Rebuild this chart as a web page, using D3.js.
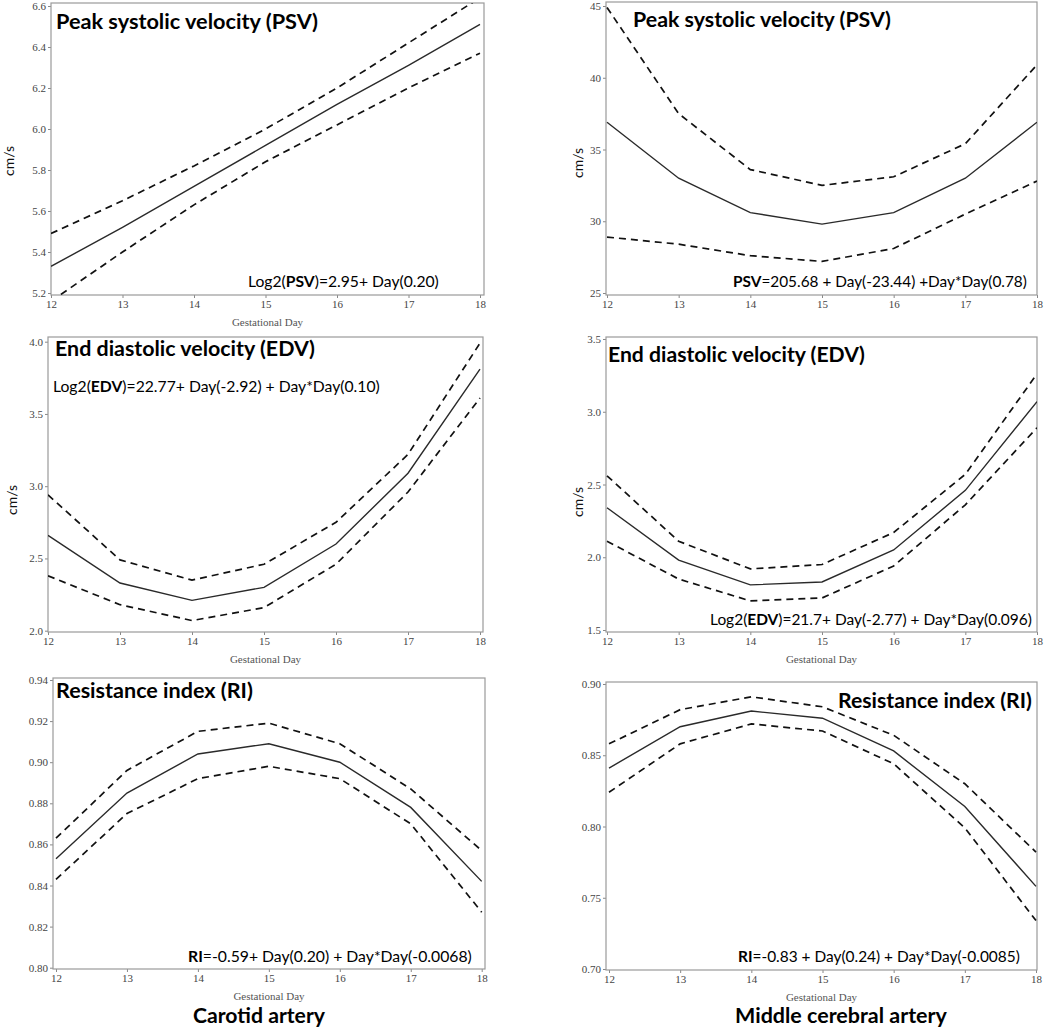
<!DOCTYPE html>
<html><head><meta charset="utf-8">
<script src="https://cdn.jsdelivr.net/npm/d3@7"></script>
<style>html,body{margin:0;padding:0;background:#fff}</style>
</head><body>
<script>
// ---------- data ----------
const days = [12, 13, 14, 15, 16, 17, 18];

const carotidPsvFit   = [5.33, 5.52, 5.72, 5.92, 6.12, 6.31, 6.51];
const carotidPsvUpper = [5.49, 5.65, 5.82, 6.00, 6.20, 6.42, 6.64];
const carotidPsvLower = [5.16, 5.40, 5.63, 5.84, 6.02, 6.20, 6.37];
const carotidPsvTicks = [5.2, 5.4, 5.6, 5.8, 6.0, 6.2, 6.4, 6.6];

const mcaPsvFit   = [36.9, 33.0, 30.6, 29.8, 30.6, 33.0, 36.9];
const mcaPsvUpper = [44.9, 37.5, 33.6, 32.5, 33.1, 35.4, 40.9];
const mcaPsvLower = [28.9, 28.4, 27.6, 27.2, 28.1, 30.5, 32.8];
const mcaPsvTicks = [25, 30, 35, 40, 45];

const carotidEdvFit   = [2.66, 2.33, 2.21, 2.30, 2.60, 3.09, 3.81];
const carotidEdvUpper = [2.94, 2.49, 2.35, 2.46, 2.75, 3.22, 3.99];
const carotidEdvLower = [2.38, 2.18, 2.07, 2.16, 2.46, 2.96, 3.61];
const carotidEdvTicks = [2.0, 2.5, 3.0, 3.5, 4.0];

const mcaEdvFit   = [2.34, 1.98, 1.81, 1.83, 2.05, 2.46, 3.07];
const mcaEdvUpper = [2.56, 2.11, 1.92, 1.95, 2.17, 2.57, 3.26];
const mcaEdvLower = [2.11, 1.85, 1.70, 1.72, 1.94, 2.36, 2.89];
const mcaEdvTicks = [1.5, 2.0, 2.5, 3.0, 3.5];

const carotidRiFit   = [0.853, 0.885, 0.904, 0.909, 0.900, 0.878, 0.842];
const carotidRiUpper = [0.863, 0.896, 0.915, 0.919, 0.909, 0.887, 0.857];
const carotidRiLower = [0.843, 0.875, 0.892, 0.898, 0.892, 0.870, 0.827];
const carotidRiTicks = [0.80, 0.82, 0.84, 0.86, 0.88, 0.90, 0.92, 0.94];

const mcaRiFit   = [0.841, 0.870, 0.881, 0.876, 0.853, 0.814, 0.758];
const mcaRiUpper = [0.858, 0.882, 0.891, 0.884, 0.864, 0.830, 0.782];
const mcaRiLower = [0.824, 0.858, 0.872, 0.867, 0.844, 0.799, 0.734];
const mcaRiTicks = [0.70, 0.75, 0.80, 0.85, 0.90];

const titlePsv = "Peak systolic velocity  (PSV)";
const titleEdv = "End diastolic velocity (EDV)";
const titleRi  = "Resistance index (RI)";
const formulaCarotidPsv = [["Log2(", 0], ["PSV", 1], [")=2.95+ Day(0.20)", 0]];
const formulaMcaPsv     = [["PSV", 1], ["=205.68 + Day(-23.44) +Day*Day(0.78)", 0]];
const formulaCarotidEdv = [["Log2(", 0], ["EDV", 1], [")=22.77+ Day(-2.92) + Day*Day(0.10)", 0]];
const formulaMcaEdv     = [["Log2(", 0], ["EDV", 1], [")=21.7+ Day(-2.77) + Day*Day(0.096)", 0]];
const formulaCarotidRi  = [["RI", 1], ["=-0.59+ Day(0.20) + Day*Day(-0.0068)", 0]];
const formulaMcaRi      = [["RI", 1], ["=-0.83 + Day(0.24) + Day*Day(-0.0085)", 0]];
const columnLabels = ["Carotid artery", "Middle cerebral artery"];
const xLabel = "Gestational Day";
const yUnit = "cm/s";

// ---------- layout ----------
const panels = [
  {fit: carotidPsvFit, up: carotidPsvUpper, lo: carotidPsvLower, ticks: carotidPsvTicks, fmt: ".1f",
   dom: [5.2, 6.6], xr: [51, 480], yr: [293, 6], frame: [51, 3, 484, 295],
   title: titlePsv, tPos: [56, 29, 262], formula: formulaCarotidPsv, fPos: [248, 287, 191],
   unit: [14, 161], xlab: true},
  {fit: mcaPsvFit, up: mcaPsvUpper, lo: mcaPsvLower, ticks: mcaPsvTicks, fmt: "d",
   dom: [25, 45], xr: [607, 1037], yr: [293, 6], frame: [606, 2, 1037, 295],
   title: titlePsv, tPos: [633, 27, 258], formula: formulaMcaPsv, fPos: [733, 287, 294],
   unit: [583, 163], xlab: false, cutBottom: 309},
  {fit: carotidEdvFit, up: carotidEdvUpper, lo: carotidEdvLower, ticks: carotidEdvTicks, fmt: ".1f",
   dom: [2.0, 4.0], xr: [48, 480], yr: [630.7, 341.7], frame: [48, 337, 483, 632],
   title: titleEdv, tPos: [55, 356, 260], formula: formulaCarotidEdv, fPos: [53, 392, 327],
   unit: [17, 500], xlab: true},
  {fit: mcaEdvFit, up: mcaEdvUpper, lo: mcaEdvLower, ticks: mcaEdvTicks, fmt: ".1f",
   dom: [1.5, 3.5], xr: [607, 1037], yr: [630, 339], frame: [606, 337, 1037, 632],
   title: titleEdv, tPos: [608, 362, 257], formula: formulaMcaEdv, fPos: [710, 625, 322],
   unit: [583, 502], xlab: true},
  {fit: carotidRiFit, up: carotidRiUpper, lo: carotidRiLower, ticks: carotidRiTicks, fmt: ".2f",
   dom: [0.80, 0.94], xr: [56, 481.7], yr: [967.7, 680], frame: [53, 678, 485, 969],
   title: titleRi, tPos: [56, 698, 197], formula: formulaCarotidRi, fPos: [188, 962, 284],
   unit: null, xlab: true},
  {fit: mcaRiFit, up: mcaRiUpper, lo: mcaRiLower, ticks: mcaRiTicks, fmt: ".2f",
   dom: [0.70, 0.90], xr: [609, 1036], yr: [969, 684], frame: [606, 682, 1037, 970],
   title: titleRi, tPos: [838, 708, 194], formula: formulaMcaRi, fPos: [738, 962, 282],
   unit: null, xlab: true}
];

const W = 1050, H = 1028;
const svg = d3.select("body").append("svg").attr("width", W).attr("height", H)
  .style("display", "block");
svg.append("rect").attr("width", W).attr("height", H).attr("fill", "#fff");
const defs = svg.append("defs");

function fitWidth(sel, target) {
  const n = sel.node();
  const len = n.getComputedTextLength();
  const fs = parseFloat(sel.attr("font-size"));
  if (len > 0) sel.attr("font-size", fs * target / len);
}

panels.forEach((p, i) => {
  const x = d3.scaleLinear().domain([12, 18]).range(p.xr);
  const y = d3.scaleLinear().domain(p.dom).range(p.yr);
  const [fl, ft, fr, fb] = p.frame;
  const g = svg.append("g");

  const cid = "clip" + i;
  defs.append("clipPath").attr("id", cid).append("rect")
    .attr("x", fl).attr("y", ft).attr("width", fr - fl).attr("height", fb - ft);

  // axes
  const ya = g.append("g").attr("transform", `translate(${fl},0)`)
    .call(d3.axisLeft(y).tickValues(p.ticks).tickSize(3).tickPadding(2).tickFormat(d3.format(p.fmt)));
  const xaG = g.append("g");
  if (p.cutBottom) {
    defs.append("clipPath").attr("id", "cutb" + i).append("rect")
      .attr("x", fl - 20).attr("y", fb - 5).attr("width", fr - fl + 40).attr("height", p.cutBottom - fb + 5);
    xaG.attr("clip-path", `url(#cutb${i})`);
  }
  const xa = xaG.append("g").attr("transform", `translate(0,${fb})`)
    .call(d3.axisBottom(x).tickValues(days).tickSize(3).tickPadding(2).tickFormat(d3.format("d")));
  [ya, xa].forEach(a => {
    a.select(".domain").remove();
    a.selectAll("line").attr("stroke", "#888");
    a.selectAll("text").attr("font-family", "Liberation Serif, serif").attr("font-size", 11).attr("fill", "#444");
  });

  // frame
  g.append("rect").attr("x", fl).attr("y", ft).attr("width", fr - fl).attr("height", fb - ft)
    .attr("fill", "none").attr("stroke", "#9a9a9a").attr("stroke-width", 1.2);

  // lines
  const line = d3.line().x((d, k) => x(days[k])).y(d => y(d));
  const lg = g.append("g").attr("clip-path", `url(#${cid})`);
  [p.up, p.lo].forEach(arr => {
    lg.append("path").datum(arr).attr("d", line).attr("fill", "none")
      .attr("stroke", "#111").attr("stroke-width", 1.7).attr("stroke-dasharray", "7,5");
  });
  lg.append("path").datum(p.fit).attr("d", line).attr("fill", "none")
    .attr("stroke", "#2a2a2a").attr("stroke-width", 1.4);

  // x label
  if (p.xlab) {
    g.append("text").attr("x", (fl + fr) / 2).attr("y", fb + 31).attr("text-anchor", "middle")
      .attr("font-family", "Liberation Serif, serif").attr("font-size", 11).attr("fill", "#555")
      .text(xLabel);
  }
  // unit
  if (p.unit) {
    g.append("text").attr("transform", `translate(${p.unit[0]},${p.unit[1]}) rotate(-90)`)
      .attr("text-anchor", "middle").attr("font-family", "Lato, sans-serif").attr("font-size", 14)
      .attr("fill", "#111").text(yUnit);
  }
  // title
  const t = g.append("text").attr("x", p.tPos[0]).attr("y", p.tPos[1])
    .attr("font-family", "Lato, sans-serif").attr("font-weight", "bold").attr("font-size", 21)
    .attr("fill", "#000").text(p.title);
  fitWidth(t, p.tPos[2]);
  // formula
  const f = g.append("text").attr("x", p.fPos[0]).attr("y", p.fPos[1])
    .attr("font-family", "Lato, sans-serif").attr("font-size", 17).attr("fill", "#000");
  p.formula.forEach(([s, b]) => {
    f.append("tspan").attr("font-weight", b ? "bold" : "normal").text(s);
  });
  fitWidth(f, p.fPos[2]);
});

// column labels
[[259, 132], [841, 212]].forEach(([cx, w], k) => {
  const t = svg.append("text").attr("x", cx).attr("y", 1023).attr("text-anchor", "middle")
    .attr("font-family", "Lato, sans-serif").attr("font-weight", "bold").attr("font-size", 21)
    .attr("fill", "#000").text(columnLabels[k]);
  fitWidth(t, w);
});
</script>
</body></html>
